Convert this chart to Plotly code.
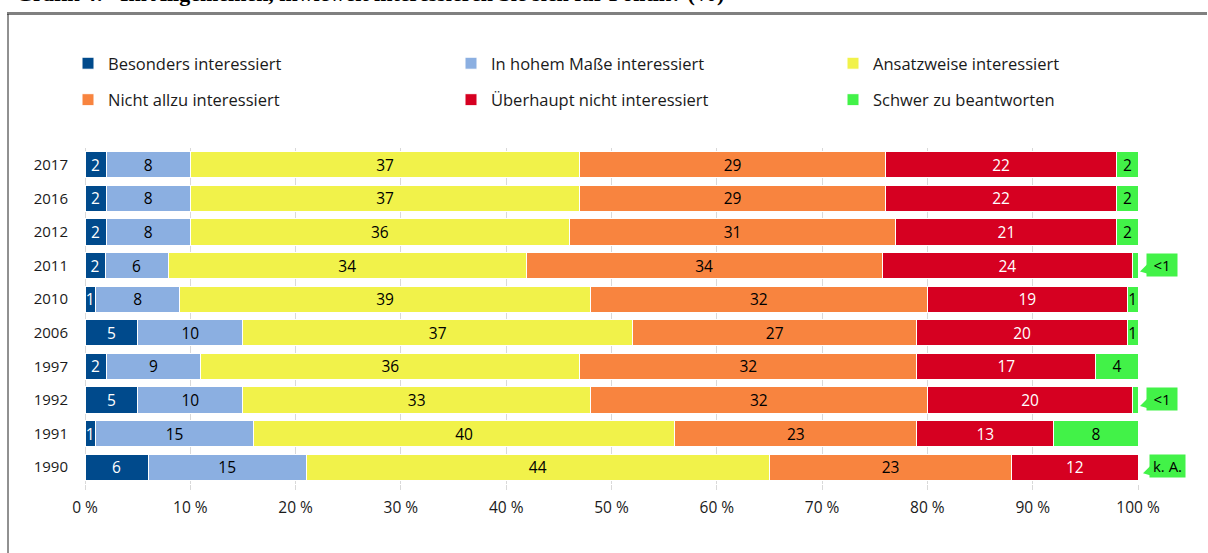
import plotly.graph_objects as go

# ---------------- data ----------------
years = ["2017", "2016", "2012", "2011", "2010", "2006", "1997", "1992", "1991", "1990"]

besonders = [2, 2, 2, 1.9, 1, 5, 2, 5, 1, 6]
hohem = [8, 8, 8, 6, 8, 10, 9, 10, 15, 15]
ansatz = [37, 37, 36, 34, 39, 37, 36, 33, 40, 44]
nicht_allzu = [29, 29, 31, 33.8, 32, 27, 32, 32, 23, 23]
ueberhaupt = [22, 22, 21, 23.8, 19, 20, 17, 19.5, 13, 12]
schwer = [2, 2, 2, 0.5, 1, 1, 4, 0.5, 8, 0]

besonders_lbl = ["2", "2", "2", "2", "1", "5", "2", "5", "1", "6"]
hohem_lbl = ["8", "8", "8", "6", "8", "10", "9", "10", "15", "15"]
ansatz_lbl = ["37", "37", "36", "34", "39", "37", "36", "33", "40", "44"]
nicht_allzu_lbl = ["29", "29", "31", "34", "32", "27", "32", "32", "23", "23"]
ueberhaupt_lbl = ["22", "22", "21", "24", "19", "20", "17", "20", "13", "12"]
schwer_lbl = ["2", "2", "2", "", "1", "1", "4", "", "8", ""]

series_names = [
    "Besonders interessiert",
    "In hohem Maße interessiert",
    "Ansatzweise interessiert",
    "Nicht allzu interessiert",
    "Überhaupt nicht interessiert",
    "Schwer zu beantworten",
]

callout_years = ["2011", "1992", "1990"]
callout_texts = ["<1", "<1", "k. A."]

x_ticks = [0, 10, 20, 30, 40, 50, 60, 70, 80, 90, 100]
x_tick_labels = ["0 %", "10 %", "20 %", "30 %", "40 %", "50 %", "60 %", "70 %", "80 %", "90 %", "100 %"]
title_text = "<b>Grafik 4:   Im Allgemeinen, inwieweit interessieren Sie sich für Politik? (%)</b>"

# ---------------- style ----------------
colors = ["#004A8C", "#8BAFE1", "#F1F24A", "#F8843F", "#D60021", "#42F248"]
text_colors = ["white", "black", "black", "black", "white", "black"]
legends = ["legend", "legend2", "legend3", "legend", "legend2", "legend3"]
FONT = "Open Sans"

values = [besonders, hohem, ansatz, nicht_allzu, ueberhaupt, schwer]
labels = [besonders_lbl, hohem_lbl, ansatz_lbl, nicht_allzu_lbl, ueberhaupt_lbl, schwer_lbl]

fig = go.Figure()
for i, name in enumerate(series_names):
    fig.add_trace(go.Bar(
        y=years, x=values[i], name=name, orientation="h",
        marker=dict(color=colors[i], line=dict(color="white", width=1)),
        text=labels[i], texttemplate="%{text}", textposition="inside",
        insidetextanchor="middle", textangle=0,
        textfont=dict(family=FONT, size=15.5, color=text_colors[i]),
        legend=legends[i], legendgroup="g%d" % i, hoverinfo="skip",
    ))

# plot area geometry (pixels)
L, R, T, B = 85, 70, 148, 69
W = 1208 - L - R
H = 553 - T - B


def px_x(p):
    return (p - L) / W


def px_y(p):
    return 1 - (p - T) / H


leg_common = dict(orientation="v", yanchor="top", xanchor="left",
                  font=dict(family=FONT, size=16.5, color="#1a1a1a"),
                  bgcolor="rgba(0,0,0,0)", tracegroupgap=12, itemwidth=30)

fig.update_layout(
    width=1208, height=553,
    margin=dict(l=L, r=R, t=T, b=B, autoexpand=False),
    paper_bgcolor="white", plot_bgcolor="white",
    barmode="stack", bargap=0.22,
    showlegend=True,
    uniformtext=dict(minsize=15.5, mode="show"),
    legend=dict(x=px_x(68), y=px_y(46), **leg_common),
    legend2=dict(x=px_x(451), y=px_y(46), **leg_common),
    legend3=dict(x=px_x(833), y=px_y(46), **leg_common),
    xaxis=dict(range=[0, 100], autorange=False,
               tickmode="array", tickvals=x_ticks, ticktext=x_tick_labels,
               showgrid=True, gridcolor="#D9D9D9", gridwidth=1,
               zeroline=True, zerolinecolor="#D9D9D9", zerolinewidth=1,
               ticks="outside", ticklen=5, tickcolor="#D9D9D9",
               ticklabelstandoff=4,
               tickfont=dict(family=FONT, size=15.5, color="#1a1a1a"),
               showline=False, fixedrange=True),
    yaxis=dict(type="category", categoryorder="array", categoryarray=years,
               range=[len(years) - 0.5, -0.5], autorange=False,
               showgrid=False, zeroline=False,
               ticks="", ticklabelstandoff=16,
               tickfont=dict(family=FONT, size=15, color="#1a1a1a"),
               fixedrange=True),
)

# frame of the original graphic
fig.add_shape(type="line", xref="paper", yref="paper",
              x0=px_x(7), x1=px_x(1207), y0=px_y(13.5), y1=px_y(13.5),
              line=dict(color="#808080", width=3), layer="above")
fig.add_shape(type="line", xref="paper", yref="paper",
              x0=px_x(8), x1=px_x(8), y0=px_y(14), y1=px_y(560),
              line=dict(color="#222222", width=1), layer="above")

# partially visible title (cut off at the top edge)
fig.add_annotation(text=title_text, xref="paper", yref="paper",
                   x=px_x(14), y=px_y(8), xanchor="left", yanchor="bottom",
                   showarrow=False,
                   font=dict(family="Liberation Serif", size=22, color="black"))

# callouts for tiny / missing values (category axis -> use category index)
n = len(years)
for yr, txt in zip(callout_years, callout_texts):
    idx = years.index(yr)
    shift = 8 if txt == "<1" else 11
    fig.add_annotation(x=100, y=idx, xref="x", yref="y", text=txt,
                       showarrow=False, xanchor="left", yanchor="middle",
                       xshift=shift, yshift=1, bgcolor=colors[5], borderpad=1,
                       width=28 if txt == "<1" else 33,
                       font=dict(family=FONT, size=15, color="black"))
    # small speech-bubble tail (paper-referenced so it is not clipped)
    fig.add_shape(type="path", xref="paper", yref="paper",
                  xsizemode="pixel", ysizemode="pixel",
                  xanchor=1, yanchor=1 - (idx + 0.5) / n,
                  path="M %d,1 L %d,-6 L %d,-8 Z" % (shift + 1, shift - 6, shift + 1),
                  fillcolor=colors[5], line=dict(width=0), layer="above")

fig.write_html("out.html", post_script="document.body.style.margin='0px';",
               config={"displayModeBar": False, "staticPlot": True})
